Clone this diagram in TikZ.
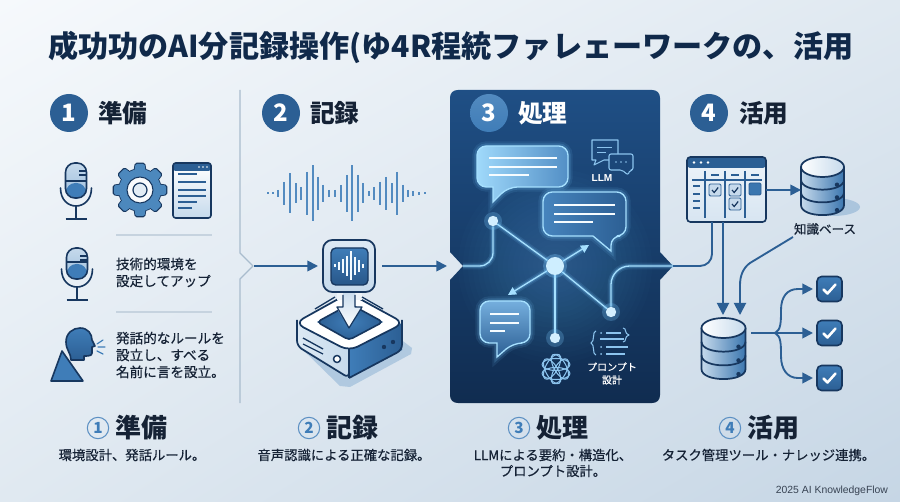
\documentclass[tikz,border=0pt]{standalone}
\usepackage{fontspec}
\setmainfont{Noto Sans CJK JP}
\newfontfamily\jm{Noto Sans CJK JP}[FakeBold=0.45]
\newfontfamily\lat{Liberation Sans}
\usetikzlibrary{arrows.meta,calc,shadings}
\definecolor{bgA}{HTML}{F6F9FC}
\definecolor{bgB}{HTML}{E0E9F1}
\definecolor{bgC}{HTML}{C6D6E5}
\definecolor{ink}{HTML}{152235}
\definecolor{titleink}{HTML}{10294A}
\definecolor{navy}{HTML}{17375F}
\definecolor{mid}{HTML}{2C5F94}
\definecolor{blue1}{HTML}{3F7DB8}
\definecolor{gearb}{HTML}{4C88BD}
\definecolor{pale}{HTML}{C6DAEC}
\definecolor{rulec}{HTML}{C6D3DF}
\definecolor{vline}{HTML}{A9BCCD}
\definecolor{glowc}{HTML}{7CCBFF}
\definecolor{neon}{HTML}{A6E0FF}
\definecolor{iconl}{HTML}{8CC4EE}
\definecolor{paneltop}{HTML}{1F4F85}
\definecolor{panelbot}{HTML}{102C50}
\tikzset{
  x=0.75pt,y=-0.75pt,
  every node/.style={inner sep=0,outer sep=0},
  bx/.style 2 args={rectangle,minimum width=#1*0.75pt,minimum height=#2*0.75pt},
  numdisc/.style={circle,minimum size=28.5pt,fill=mid,text=white,font=\bfseries\fontsize{18}{18}\selectfont},
  headtxt/.style={anchor=west,text=ink,font=\bfseries\fontsize{18.5}{18.5}\selectfont},
  smallring/.style={circle,minimum size=16pt,draw=blue1!85!white,line width=0.8pt,text=blue1,font=\bfseries\fontsize{11.5}{11.5}\selectfont},
  bigtxt/.style={anchor=west,text=ink,font=\bfseries\fontsize{19.5}{19.5}\selectfont},
  subtxt/.style={text=ink,font=\jm\fontsize{10}{12}\selectfont,align=center},
  sidetxt/.style={anchor=west,text=ink,font=\jm\fontsize{10.2}{12.7}\selectfont,align=left},
  dk/.style={draw=navy,line width=1.2pt,line join=round},
  flow/.style={draw=mid,line width=1.3pt,-{Triangle[length=8pt,width=8pt]}},
  flowb/.style={draw=mid,line width=1.4pt,rounded corners=8pt,-{Triangle[length=9pt,width=9pt]}},
  neonline/.style={draw=neon,line width=1pt,
     preaction={draw=glowc,line width=5pt,opacity=.12},
     preaction={draw=glowc,line width=2.8pt,opacity=.22}},
  bubble/.style={draw=neon,line width=1pt,rounded corners=7pt,
     preaction={draw=glowc,line width=7pt,opacity=.10},
     preaction={draw=glowc,line width=4pt,opacity=.18}},
  wl/.style={draw=white!90!neon,line width=1pt},
  neond/.style={circle,minimum size=8pt},
  ico/.style={draw=iconl,line width=.8pt,line join=round}
}
\newcommand\micicon[3]{%
  \shade[top color=pale,bottom color=pale!70!blue1,rounded corners=7pt]
     (#1-10.5,#2) rectangle (#1+10.5,#3);
  \fill[blue1,rounded corners=7pt] (#1-10,#3-15) rectangle (#1+10,#3-.6);
  \draw[dk] (#1-10.5,#3-17) -- (#1+10.5,#3-17);
  \draw[dk,line width=1pt] (#1+3,#2+8) -- (#1+10,#2+8) (#1+3,#2+12) -- (#1+10,#2+12);
  \draw[dk,rounded corners=7pt] (#1-10.5,#2) rectangle (#1+10.5,#3);
  \draw[dk,line cap=round] (#1-15.5,#3-10) .. controls (#1-15.5,#3+14) and (#1+15.5,#3+14) .. (#1+15.5,#3-10);
  \draw[dk] (#1,#3+8) -- (#1,#3+20) (#1-10.5,#3+21) -- (#1+10.5,#3+21);
}
\newcommand\dbicon[5]{%
  \pgfmathsetmacro\dby{#3+10}
  \pgfmathsetmacro\dba{\dby+#5}\pgfmathsetmacro\dbb{\dby+2*#5}\pgfmathsetmacro\dbc{\dby+3*#5}
  \pgfmathsetmacro\dbl{#2-#4}\pgfmathsetmacro\dbr{#2+#4}
  \shade[left color=pale,right color=blue1!90!navy]
     (\dbl,\dby) -- (\dbl,\dbc) .. controls (\dbl,\dbc+13.3) and (\dbr,\dbc+13.3) .. (\dbr,\dbc) -- (\dbr,\dby) -- cycle;
  \draw[dk,line width=1.3pt] (\dbl,\dby) -- (\dbl,\dbc) .. controls (\dbl,\dbc+13.3) and (\dbr,\dbc+13.3) .. (\dbr,\dbc) -- (\dbr,\dby);
  \draw[dk,line width=1.3pt] (\dbl,\dba) .. controls (\dbl,\dba+13.3) and (\dbr,\dba+13.3) .. (\dbr,\dba);
  \draw[dk,line width=1.3pt] (\dbl,\dbb) .. controls (\dbl,\dbb+13.3) and (\dbr,\dbb+13.3) .. (\dbr,\dbb);
  \shade[left color=white,right color=pale] (#2,\dby) ellipse [x radius=#4,y radius=10];
  \draw[dk,line width=1.3pt] (#2,\dby) ellipse [x radius=#4,y radius=10];
  \fill[navy] (\dbr-7,\dba+5) circle (2.2) (\dbr-7,\dbb+5) circle (2.2) (\dbr-7,\dbc+5) circle (2.2);
  \node[bx={2*#4}{\dbc+10-#3}] (#1) at (#2,{(#3+\dbc+10)/2}) {};
}
\newcommand\taskbox[3]{%
  \node[bx={25}{25},top color=blue1,bottom color=mid,draw=navy,line width=1.2pt,rounded corners=3.5pt] (#1) at (#2,#3) {};
  \draw[white,line width=1.9pt,line cap=round,line join=round] (#2-6,#3+.5) -- (#2-2,#3+4.5) -- (#2+6,#3-4.5);
}
\newcommand\kcheck[2]{%
  \fill[pale,draw=mid,line width=.7pt,rounded corners=1pt] (#1-6,#2-6) rectangle (#1+6,#2+6);
  \draw[navy,line width=.9pt] (#1-3,#2) -- (#1-.8,#2+2.5) -- (#1+3.2,#2-2.5);
}
\begin{document}
\begin{tikzpicture}
\useasboundingbox (0,0) rectangle (900,502);
% background
\shade[upper left=bgA,upper right=bgB,lower left=bgB,lower right=bgC] (0,0) rectangle (900,502);
% title
\node[anchor=west,text=titleink,font=\bfseries\fontsize{22.6}{22.6}\selectfont] (title) at (48,47) {成功功のAI分記録操作(ゆ4R程統ファレェーワークの、活用};
% column headers
\node[numdisc] (n1) at (69,113) {1};
\node[headtxt] (h1) at (98,113) {準備};
\node[numdisc] (n2) at (281,113) {2};
\node[headtxt] (h2) at (310,113) {記録};
\node[numdisc] (n4) at (709,113) {4};
\node[headtxt] (h4) at (739,113) {活用};
% divider
\coordinate (va) at (240,90); \coordinate (vb) at (240,253); \coordinate (vc) at (253,266);
\coordinate (vd) at (240,279); \coordinate (ve) at (240,403);
\draw[vline,line width=1pt,line join=round] (va) -- (vb) -- (vc) -- (vd) -- (ve);
% ---- column 1 icons
\micicon{76}{163}{198}
% gear
\begin{scope}[shift={(140,190)}]
  \foreach \a in {0,45,...,315} \draw[dk,line width=1.2pt,rotate=\a,rounded corners=1pt] (-5.5,-20) -- (-4.5,-26.5) -- (4.5,-26.5) -- (5.5,-20) -- cycle;
  \draw[dk,line width=1.2pt] (0,0) circle (21);
  \foreach \a in {0,45,...,315} \fill[gearb,rotate=\a,rounded corners=1pt] (-5.5,-19) -- (-4.5,-26) -- (4.5,-26) -- (5.5,-19) -- cycle;
  \fill[gearb] (0,0) circle (21);
  \fill[white!90!pale] (0,0) circle (13);
  \draw[dk,line width=.8pt] (0,0) circle (13);
  \draw[dk,line width=.9pt,fill=pale!50!white] (0,0) circle (7);
\end{scope}
% window
\shade[top color=white,bottom color=pale,rounded corners=2pt] (173,163) rectangle (211,218);
\fill[mid,rounded corners=2pt] (173,163) rectangle (211,171);
\fill[white] (199,167) circle (.9) (203,167) circle (.9) (207,167) circle (.9);
\draw[dk,rounded corners=2pt] (173,163) rectangle (211,218);
\draw[mid,line width=.9pt] (178,174) -- (197,174) (178,182) -- (206,182) (178,190) -- (206,190) (178,196) -- (206,196) (178,202) -- (197,202) (178,208) -- (192,208);
\draw[rulec,line width=1pt] (116,235) -- (212,235);
% second mic
\micicon{77}{248}{279}
\node[sidetxt] (t1) at (116,272.5) {技術的環境を\\設定してアップ};
\draw[rulec,line width=1pt] (116,312) -- (212,312);
% speaker
\draw[dk,fill=blue1] (51,381) -- (83,381) -- (62,351) -- cycle;
\shade[top color=blue1,bottom color=mid]
  (71,360) .. controls (71,353) and (66,350) .. (66,342) .. controls (66,333) and (73,328) .. (80,328) .. controls (88,328) and (92,334) .. (92,340) -- (95,346) -- (92,347) -- (92,353) .. controls (92,356) and (88,356) .. (84,356) -- (84,360) -- cycle;
\draw[dk] (71,360) .. controls (71,353) and (66,350) .. (66,342) .. controls (66,333) and (73,328) .. (80,328) .. controls (88,328) and (92,334) .. (92,340) -- (95,346) -- (92,347) -- (92,353) .. controls (92,356) and (88,356) .. (84,356) -- (84,360) -- cycle;
\draw[blue1,line width=.9pt,line cap=round] (97,344) -- (103,340) (98,347) -- (105,347) (97,351) -- (103,354);
\node[sidetxt] (t2) at (116,355) {発話的なルールを\\設立し、すべる\\名前に言を設立。};
% ---- waveform
\foreach \x/\h in {268/2,273/2,278/7,284/23,290/40,296/20,301/13,307/43,313/56,318/33,323/17,329/7,335/7,341/17,347/37,352/56,358/37,363/20,369/5,374/13,380/23,386/33,392/20,397/43,403/17,408/7,413/5,419/3,425/2}
  \draw[blue1!85!pale,line width=1.1pt] (\x,193.5-\h/2) -- (\x,193.5+\h/2);
% ---- recorder device
\fill[blue1!30!bgB] (298,345) -- (349,300) -- (412,348) -- (411,354) -- (350,387) -- (340,386) -- cycle;
\shade[left color=pale!60!white,right color=pale] (297,323) -- (297,346) -- (349,378) -- (349,348) -- cycle;
\draw[navy,line width=1.3pt,line join=round,rounded corners=4pt] (297,320) -- (297,346) -- (349,378) -- (349,348);
\shade[left color=blue1,right color=mid] (349,348) -- (349,378) -- (402,350) -- (402,323) -- cycle;
\draw[navy,line width=1.3pt,line join=round,rounded corners=4pt] (349,378) -- (402,350) -- (402,320);
\draw[navy,line width=1.3pt] (349,348) -- (349,378);
\fill[white,draw=navy,line width=1.3pt,line join=round,rounded corners=7pt] (295,323) -- (349,293) -- (404,323) -- (349,351) -- cycle;
\shade[inner color=blue1,outer color=mid] (317,322) -- (350,304) -- (383,322) -- (349,340) -- cycle;
\draw[navy,line width=1.2pt,line join=round,rounded corners=3pt] (317,322) -- (350,304) -- (383,322) -- (349,340) -- cycle;
\fill[bgB!60!white] (337,290) rectangle (362,300);
\shade[top color=pale,bottom color=white] (343,290) -- (343,307) -- (336,307) -- (349,328) -- (362,307) -- (355,307) -- (355,290) -- cycle;
\draw[navy,line width=.9pt,line join=round] (343,295) -- (343,307) -- (337,307) -- (349,328) -- (362,307) -- (355,307) -- (355,295);
\draw[navy,line width=1pt] (335,297) -- (315,309) (362,297) -- (383,309);
\draw[navy,line width=1pt] (303,338) -- (323,349) (303,344) -- (323,354);
\draw[navy,line width=1.1pt,fill=white] (337,359) circle (3.5);
\fill[navy] (384,347) circle (2.2) (393,342) circle (2.2);
\node[bx={52}{52},top color=pale!60!white,bottom color=pale,draw=navy,line width=1.3pt,rounded corners=7pt] (card) at (349,266) {};
\node[bx={37}{37},top color=blue1,bottom color=mid!80!navy,draw=navy,line width=1pt,rounded corners=3.5pt] (cardin) at (349.5,266.5) {};
\foreach \x/\h in {335/3,339/8,343/14,347/20,351/29,355/18,359/12,363/4}
  \draw[white!85!neon,line width=.8pt] (\x,266-\h/2) -- (\x,266+\h/2);
\coordinate (ptipL) at (463,266);
\coordinate (cardout) at (382,266);
\coordinate (panelin) at (447,266);
\coordinate (vout) at (254,266);
\coordinate (cardinL) at (318,266);
\draw[flow] (vout) -- (cardinL);
\draw[flow] (cardout) -- (panelin);
% ---- panel
\shade[top color=paneltop,bottom color=panelbot]
 (450,98) .. controls (450,93) and (453,90) .. (458,90) -- (652,90) .. controls (657,90) and (660,93) .. (660,98)
 -- (660,252) -- (673,266) -- (660,280) -- (660,395) .. controls (660,400) and (657,403) .. (652,403)
 -- (458,403) .. controls (453,403) and (450,400) .. (450,395) -- (450,280) -- (463,266) -- (450,252) -- cycle;
\foreach \r in {12,17,...,97} \fill[glowc,opacity=.014] (555,266) circle (\r);
% panel heading
\node[circle,minimum size=28.5pt,top color=blue1!90!white,bottom color=blue1,text=white,font=\bfseries\fontsize{18}{18}\selectfont] (n3) at (489,113) {3};
\node[headtxt,text=white] (h3) at (518,113) {処理};
% bubbles
\shade[bubble,left color=neon!75!iconl,right color=blue1!75!iconl]
  (477,146) -- (568,146) -- (568,187) -- (508,187) [sharp corners] -- (493,202) -- (493,187) [rounded corners=7pt] -- (477,187) -- cycle;
\draw[wl] (489,158) -- (557,158) (489,167) -- (557,167) (489,175) -- (529,175);
\shade[bubble,left color=blue1!90!iconl,right color=mid]
  (543,192) -- (626,192) -- (626,236) -- (611,236) [sharp corners] -- (611,251) -- (593,236) [rounded corners=7pt] -- (543,236) -- cycle;
\draw[wl] (554,205) -- (615,205) (554,214) -- (615,214) (554,222) -- (593,222);
\shade[bubble,top color=iconl!70!blue1,bottom color=mid]
  (480,301) -- (530,301) -- (530,343) -- (513,343) [sharp corners] -- (497,357) -- (497,343) [rounded corners=7pt] -- (480,343) -- cycle;
\draw[wl] (490,314) -- (519,314) (490,323) -- (519,323) (490,331) -- (505,331);
% network
\node[neond] (d1) at (493,221) {};
\node[neond] (d2) at (555,338) {};
\node[neond] (d3) at (611,312) {};
\node[circle,minimum size=14pt] (hub) at (555,266) {};
\coordinate (tipA) at (589,245);
\coordinate (tipB) at (508,295);
\coordinate (pright) at (673,266);
\draw[neonline,rounded corners=10pt] (ptipL) -- (493,266) -- (d1);
\draw[neonline] (d1) -- (hub);
\draw[neonline] (hub) -- (d2);
\draw[neonline] (hub) -- (d3);
\draw[neonline,rounded corners=14pt] (d3) -- (611,266) -- (pright);
\draw[neonline,-{Triangle[length=6pt,width=6pt]}] (hub) -- (tipA);
\draw[neonline,-{Triangle[length=6pt,width=6pt]}] (hub) -- (tipB);
\foreach \cx/\cy in {493/221,555/338,611/312} {\fill[glowc,opacity=.25] (\cx,\cy) circle (9); \fill[neon!50!white] (\cx,\cy) circle (5.2);}
\fill[glowc,opacity=.3] (555,266) circle (12);
\fill[neon!55!white] (555,266) circle (9);
% LLM icon
\draw[ico] (618,154) -- (618,140) -- (592,140) -- (592,160) -- (596,160) -- (594,165) -- (604,160) -- (609,160);
\draw[ico,line width=.7pt] (597,147) -- (612,147) (597,152) -- (606,152);
\draw[ico,rounded corners=1.5pt] (609,154) -- (633,154) -- (633,170) -- (630,170) -- (628,175) -- (622,170) -- (609,170) -- cycle;
\fill[iconl] (616,162) circle (.9) (621,162) circle (.9) (626,162) circle (.9);
\node[text=white,font=\lat\bfseries\fontsize{7.6}{8}\selectfont] (llm) at (602,178) {LLM};
% knot logo
\foreach \a in {0,60,120} {
  \draw[ico,rotate around={\a:(556,369)}] (556,373.5) ellipse [x radius=14,y radius=6];
  \draw[ico,rotate around={\a:(556,369)}] (556,364.5) ellipse [x radius=14,y radius=6];
}
% prompt icon
\draw[ico] (596,331) .. controls (592,331) and (595,342) .. (591,343) .. controls (595,344) and (592,355) .. (596,355);
\draw[ico] (623,328) .. controls (627,328) and (624,334) .. (629,335) .. controls (624,336) and (627,342) .. (623,342);
\fill[iconl] (601,333) circle (1) (601,347) circle (1) (601,354) circle (1);
\draw[ico] (606,333) -- (621,333) (600,339) -- (624,339) (606,347) -- (628,347) (606,354) -- (625,354);
\node[text=white,font=\jm\fontsize{7.5}{9.75}\selectfont,align=center] (ptxt) at (612,373.5) {プロンプト\\設計};
% ---- column 4
\node[bx={79}{65}] (kanban) at (726.5,189.5) {};
\shade[top color=white!70!pale,bottom color=pale!70!white,rounded corners=2.5pt] (687,157) rectangle (766,222);
\fill[mid,rounded corners=2.5pt] (687,157) rectangle (766,168);
\fill[white] (694,162.5) circle (1.4) (701,162.5) circle (1.4) (708,162.5) circle (1.4);
\draw[mid,line width=.8pt] (692,180) -- (762,180) (705,171) -- (705,218) (725,171) -- (725,218) (745,171) -- (745,218);
\draw[mid,line width=1pt] (711,175) -- (719,175) (731,175) -- (739,175) (751,175) -- (759,175) (693,186) -- (700,186) (693,194) -- (700,194) (693,201) -- (700,201) (693,208) -- (700,208);
\kcheck{715}{190}\kcheck{735}{190}\kcheck{735}{204}
\fill[blue1!75!mid,draw=mid,line width=.7pt,rounded corners=1pt] (749,183) rectangle (761,195);
\draw[dk,rounded corners=2.5pt] (687,157) rectangle (766,222);
% db top
\fill[blue1!40!bgB,opacity=.8] (833,207) ellipse [x radius=27,y radius=9];
\dbicon{dbA}{822.5}{157}{21.5}{12.7}
\node[text=ink,font=\jm\fontsize{9.4}{10}\selectfont] (kb) at (825,229) {知識ベース};
\coordinate (rowk) at (0,190);
\draw[flow] (kanban.east |- rowk) -- (dbA.west |- rowk);
% db bottom
\dbicon{dbB}{723.5}{318}{22}{13.7}
\coordinate (kA) at (723,222); \coordinate (kB) at (712,222); \coordinate (kAin) at (723,315);
\draw[flowb] (kA) -- (kAin);
\coordinate (kbfoot) at (793,237);
\coordinate (dbBin) at (740,315);
\draw[draw=mid,line width=1.4pt,-{Triangle[length=9pt,width=9pt]}] (kbfoot) -- (750,263) .. controls (743,268) and (740,276) .. (740,285) -- (dbBin);
\draw[mid,line width=1.4pt,rounded corners=9pt] (pright) -- (712,266) -- (kB);
% tasks
\taskbox{c1}{829.5}{289}
\taskbox{c2}{829.5}{333}
\taskbox{c3}{829.5}{378}
\coordinate (fork) at (775,333);
\coordinate (dbBout) at (751,333);
\coordinate (c1in) at (813,289);
\coordinate (c2in) at (813,333);
\coordinate (c3in) at (813,378);
\draw[flow,line width=1.4pt] (dbBout) -- (c2in);
\draw[flow,line width=1.4pt] (fork) .. controls (781,330) and (781,322) .. (781,310) .. controls (781,297) and (787,289) .. (798,289) -- (c1in);
\draw[flow,line width=1.4pt] (fork) .. controls (781,336) and (781,344) .. (781,356) .. controls (781,369) and (787,378) .. (798,378) -- (c3in);
% ---- bottom labels
\node[smallring] (r1) at (98,428) {1};
\node[bigtxt] (b1) at (115,428) {準備};
\node[subtxt] (s1) at (132,455) {環境設計、発話ルール。};
\node[smallring] (r2) at (309,428) {2};
\node[bigtxt] (b2) at (326.5,428) {記録};
\node[subtxt] (s2) at (344,455) {音声認識による正確な記録。};
\node[smallring] (r3) at (519,428) {3};
\node[bigtxt] (b3) at (536,428) {処理};
\node[subtxt] (s3) at (553,463) {LLMによる要約・構造化、\\プロンプト設計。};
\node[smallring] (r4) at (730,428) {4};
\node[bigtxt] (b4) at (747,428) {活用};
\node[subtxt] (s4) at (768.5,455) {タスク管理ツール・ナレッジ連携。};
\node[anchor=east,text=ink!85!white,font=\lat\fontsize{7.8}{9}\selectfont] (foot) at (888,491) {2025 AI KnowledgeFlow};
\end{tikzpicture}
\end{document}
